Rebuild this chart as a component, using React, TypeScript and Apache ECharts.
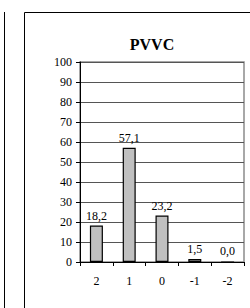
import React, { useEffect, useRef } from "react";
import * as echarts from "echarts";

const title = "PVVC";
const categories = ["2", "1", "0", "-1", "-2"];
const values = [18.2, 57.1, 23.2, 1.5, 0.0];
const yMin = 0;
const yMax = 100;
const yInterval = 10;

const FONT = "Liberation Serif, Times New Roman, serif";

export default function App() {
  const ref = useRef<HTMLDivElement>(null);
  useEffect(() => {
    if (!ref.current) return;
    const chart = echarts.init(ref.current, null, { renderer: "svg" });
    chart.setOption({
      animation: false,
      backgroundColor: "#fff",
      textStyle: { fontFamily: FONT },
      title: {
        text: title,
        left: 147,
        top: 31,
        textAlign: "center",
        textStyle: { fontFamily: FONT, fontSize: 16, fontWeight: "bold", color: "#000" },
      },
      graphic: [
        {
          type: "rect",
          shape: { x: 24.5, y: 12.5, width: 400, height: 500 },
          style: { fill: "none", stroke: "#000", lineWidth: 1 },
          silent: true,
        },
        {
          type: "line",
          shape: { x1: 4.5, y1: 12, x2: 4.5, y2: 308 },
          style: { stroke: "#000", lineWidth: 1 },
          silent: true,
        },
      ],
      grid: {
        left: 80,
        right: 6,
        top: 62,
        bottom: 46,
        show: true,
        borderColor: "#8c8c8c",
        borderWidth: 1.5,
        backgroundColor: "transparent",
      },
      xAxis: {
        type: "category",
        data: categories,
        axisLine: { lineStyle: { color: "#000", width: 1 } },
        axisTick: { show: true, length: 4, lineStyle: { color: "#000" } },
        axisLabel: { fontFamily: FONT, fontSize: 12, color: "#000", margin: 13 },
      },
      yAxis: {
        type: "value",
        min: yMin,
        max: yMax,
        interval: yInterval,
        axisLine: { show: true, lineStyle: { color: "#000", width: 1 } },
        axisTick: { show: true, length: 4, lineStyle: { color: "#000" } },
        axisLabel: { fontFamily: FONT, fontSize: 12, color: "#000", margin: 8 },
        splitLine: { show: true, lineStyle: { color: "#555", width: 1 } },
      },
      series: [
        {
          type: "bar",
          data: values,
          barWidth: 13,
          itemStyle: { color: "#c0c0c0", borderColor: "#000", borderWidth: 1.2 },
          label: {
            show: true,
            position: "top",
            distance: 4,
            fontFamily: FONT,
            fontSize: 12,
            color: "#000",
            formatter: (p: any) => Number(p.value).toFixed(1).replace(".", ","),
          },
        },
      ],
    });
    return () => chart.dispose();
  }, []);
  return (
    <div
      ref={ref}
      style={{ position: "fixed", left: 0, top: 0, width: 250, height: 308 }}
    />
  );
}
